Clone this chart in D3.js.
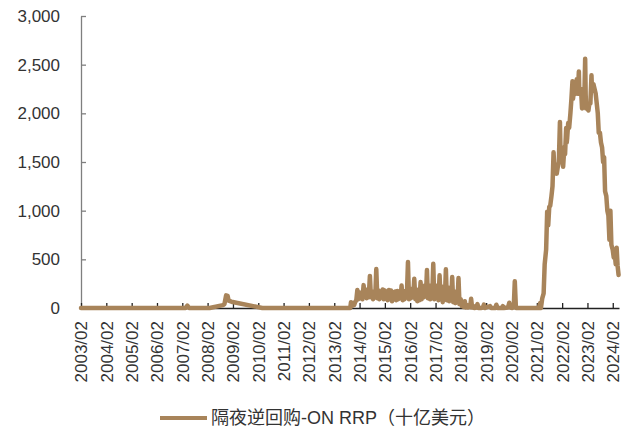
<!DOCTYPE html>
<html>
<head>
<meta charset="utf-8">
<script src="https://cdn.jsdelivr.net/npm/d3@7"></script>
<style>
  html, body { margin: 0; padding: 0; background: #fff; }
  svg { display: block; }
</style>
</head>
<body>
<svg id="chart" width="635" height="432"></svg>
<script>
// Overnight reverse repo facility usage, billions of USD: [date, value]
const rrpPre2013 = [
  ["2003-02-01", 0], ["2007-03-20", 0], ["2007-04-15", 25], ["2007-05-10", 0],
  ["2008-03-01", 0], ["2008-09-10", 30], ["2008-10-01", 40], ["2008-10-25", 130],
  ["2008-11-15", 125], ["2008-12-01", 75], ["2009-01-10", 65], ["2010-04-01", 0],
  ["2013-09-20", 0]
];
const rrp2013to2015 = [
  ["2013-09-30", 60], ["2013-10-15", 20], ["2013-10-31", 50], ["2013-11-15", 30],
  ["2013-11-29", 60], ["2013-12-16", 80], ["2013-12-31", 185],
  ["2014-01-15", 90], ["2014-01-31", 160], ["2014-02-14", 100], ["2014-02-28", 150],
  ["2014-03-14", 90], ["2014-03-31", 235], ["2014-04-15", 120], ["2014-04-30", 190],
  ["2014-05-15", 100], ["2014-05-30", 170], ["2014-06-13", 110], ["2014-06-30", 330],
  ["2014-07-15", 110], ["2014-07-31", 160], ["2014-08-15", 90], ["2014-08-29", 170],
  ["2014-09-15", 110], ["2014-09-30", 400], ["2014-10-15", 100], ["2014-10-31", 180],
  ["2014-11-14", 90], ["2014-11-28", 170], ["2014-12-15", 110], ["2014-12-31", 190],
  ["2015-01-15", 90], ["2015-01-30", 180], ["2015-02-13", 100], ["2015-02-27", 170],
  ["2015-03-13", 80], ["2015-03-31", 185], ["2015-04-15", 90], ["2015-04-30", 180],
  ["2015-05-15", 70], ["2015-05-29", 160], ["2015-06-15", 90], ["2015-06-30", 170],
  ["2015-07-15", 80], ["2015-07-31", 175], ["2015-08-14", 90], ["2015-08-31", 160],
  ["2015-09-15", 100], ["2015-09-30", 230], ["2015-10-15", 80], ["2015-10-30", 175],
  ["2015-11-13", 90], ["2015-11-30", 160], ["2015-12-15", 120], ["2015-12-31", 472]
];
const rrp2016to2017 = [
  ["2016-01-15", 90], ["2016-01-29", 200], ["2016-02-12", 100], ["2016-02-29", 180],
  ["2016-03-15", 110], ["2016-03-31", 300], ["2016-04-15", 90], ["2016-04-29", 190],
  ["2016-05-13", 70], ["2016-05-31", 170], ["2016-06-15", 80], ["2016-06-30", 267],
  ["2016-07-15", 90], ["2016-07-29", 200], ["2016-08-15", 110], ["2016-08-31", 230],
  ["2016-09-15", 120], ["2016-09-30", 390], ["2016-10-14", 100], ["2016-10-31", 230],
  ["2016-11-15", 90], ["2016-11-30", 220], ["2016-12-15", 110], ["2016-12-30", 455],
  ["2017-01-13", 90], ["2017-01-31", 230], ["2017-02-15", 110], ["2017-02-28", 200],
  ["2017-03-15", 80], ["2017-03-31", 336], ["2017-04-14", 100], ["2017-04-28", 220],
  ["2017-05-15", 60], ["2017-05-31", 190], ["2017-06-15", 90], ["2017-06-30", 397],
  ["2017-07-14", 80], ["2017-07-31", 210], ["2017-08-15", 70], ["2017-08-31", 200],
  ["2017-09-15", 80], ["2017-09-29", 318], ["2017-10-13", 60], ["2017-10-31", 170],
  ["2017-11-15", 50], ["2017-11-30", 160], ["2017-12-15", 80], ["2017-12-29", 308]
];
const rrp2018to2020 = [
  ["2018-01-12", 40], ["2018-01-31", 90], ["2018-02-15", 20], ["2018-02-28", 60],
  ["2018-03-15", 10], ["2018-03-30", 70], ["2018-04-13", 5], ["2018-04-30", 30],
  ["2018-05-15", 5], ["2018-05-31", 20], ["2018-06-15", 10], ["2018-06-29", 96],
  ["2018-07-13", 5], ["2018-07-31", 20], ["2018-08-15", 0], ["2018-09-14", 5],
  ["2018-09-28", 40], ["2018-10-15", 0], ["2018-11-15", 0], ["2018-12-14", 5],
  ["2018-12-31", 34], ["2019-01-15", 0], ["2019-03-29", 20], ["2019-04-15", 0],
  ["2019-06-14", 0], ["2019-06-28", 34], ["2019-07-15", 0], ["2019-09-13", 0],
  ["2019-09-30", 20], ["2019-10-15", 0], ["2019-12-13", 5], ["2019-12-31", 54],
  ["2020-01-15", 5], ["2020-02-14", 0], ["2020-03-05", 10], ["2020-03-20", 274],
  ["2020-04-05", 0], ["2021-03-01", 0]
];
const rrp2021to2024 = [
  ["2021-03-20", 50], ["2021-04-01", 0], ["2021-04-20", 100], ["2021-05-10", 150],
  ["2021-05-25", 450], ["2021-06-15", 600], ["2021-06-30", 990], ["2021-07-15", 850],
  ["2021-07-30", 1040], ["2021-08-13", 1050], ["2021-08-31", 1150], ["2021-09-15", 1250],
  ["2021-09-30", 1600], ["2021-10-15", 1380], ["2021-10-29", 1430], ["2021-11-15", 1380],
  ["2021-11-30", 1450], ["2021-12-15", 1500], ["2021-12-31", 1910],
  ["2022-01-07", 1650], ["2022-01-14", 1600], ["2022-01-31", 1650], ["2022-02-15", 1450],
  ["2022-02-28", 1600], ["2022-03-15", 1580], ["2022-03-31", 1850], ["2022-04-08", 1700],
  ["2022-04-15", 1750], ["2022-04-29", 1900], ["2022-05-13", 1850], ["2022-05-31", 2000],
  ["2022-06-15", 2150], ["2022-06-30", 2330], ["2022-07-08", 2150], ["2022-07-15", 2200],
  ["2022-07-29", 2250], ["2022-08-15", 2200], ["2022-08-31", 2350], ["2022-09-15", 2200],
  ["2022-09-30", 2430], ["2022-10-07", 2200], ["2022-10-14", 2230], ["2022-10-31", 2250],
  ["2022-11-15", 2050], ["2022-11-30", 2100], ["2022-12-15", 2060], ["2022-12-30", 2560],
  ["2023-01-06", 2200], ["2023-01-13", 2050], ["2023-01-31", 2050], ["2023-02-15", 2030],
  ["2023-02-28", 2100], ["2023-03-15", 2100], ["2023-03-31", 2390], ["2023-04-07", 2250],
  ["2023-04-14", 2250], ["2023-04-28", 2300], ["2023-05-15", 2250], ["2023-05-31", 2200],
  ["2023-06-15", 2100], ["2023-06-30", 2000], ["2023-07-14", 1800], ["2023-07-31", 1800],
  ["2023-08-15", 1700], ["2023-08-31", 1650], ["2023-09-15", 1500], ["2023-09-29", 1550],
  ["2023-10-13", 1200], ["2023-10-31", 1150], ["2023-11-15", 1000], ["2023-11-30", 950],
  ["2023-12-15", 700], ["2023-12-29", 1000], ["2024-01-12", 650], ["2024-01-31", 600],
  ["2024-02-15", 520], ["2024-02-29", 560], ["2024-03-15", 450], ["2024-03-28", 620],
  ["2024-04-10", 440], ["2024-04-25", 340]
];

const yTickValues = [0, 500, 1000, 1500, 2000, 2500, 3000];
const xTickLabels = [
  "2003/02", "2004/02", "2005/02", "2006/02", "2007/02", "2008/02", "2009/02",
  "2010/02", "2011/02", "2012/02", "2013/02", "2014/02", "2015/02", "2016/02",
  "2017/02", "2018/02", "2019/02", "2020/02", "2021/02", "2022/02", "2023/02", "2024/02"
];
const seriesName = "隔夜逆回购-ON RRP（十亿美元）";
const lineColor = "#A8845A";

const parseDay = d3.timeParse("%Y-%m-%d");
const parseTick = d3.timeParse("%Y/%m");
const series = [].concat(rrpPre2013, rrp2013to2015, rrp2016to2017, rrp2018to2020, rrp2021to2024)
  .map(([d, v]) => ({ date: parseDay(d), value: v }));

const plot = { left: 81, right: 619, top: 16, bottom: 308 };
const font = "'Liberation Sans', Arial, 'Noto Sans CJK SC', sans-serif";

const x = d3.scaleTime()
  .domain([parseTick("2003/02"), parseDay("2024-05-01")])
  .range([plot.left, plot.right]);
const y = d3.scaleLinear()
  .domain([0, 3000])
  .range([plot.bottom, plot.top]);

const svg = d3.select("#chart");

// y axis: inward ticks, labels on the left
const yAxis = svg.append("g")
  .attr("transform", `translate(${plot.left},0)`)
  .call(d3.axisLeft(y).tickValues(yTickValues).tickFormat(d3.format(","))
    .tickSizeInner(-5).tickSizeOuter(0).tickPadding(21));
yAxis.select(".domain").attr("stroke", "#7f7f7f").attr("stroke-width", 1.3);
yAxis.selectAll(".tick line").attr("stroke", "#7f7f7f").attr("stroke-width", 1.3);
yAxis.selectAll(".tick text")
  .attr("font-family", font).attr("font-size", 17).attr("fill", "#333");

// x axis: yearly February ticks, rotated labels
const xTickDates = xTickLabels.map(parseTick);
const xAxis = svg.append("g")
  .attr("transform", `translate(0,${plot.bottom})`)
  .call(d3.axisBottom(x).tickValues(xTickDates)
    .tickFormat((d, i) => xTickLabels[i])
    .tickSizeInner(-5).tickSizeOuter(0));
xAxis.select(".domain").attr("stroke", "#222").attr("stroke-width", 1.3);
xAxis.selectAll(".tick line").attr("stroke", "#222").attr("stroke-width", 1.3);
xAxis.selectAll(".tick text")
  .attr("font-family", font).attr("font-size", 17).attr("fill", "#333")
  .attr("transform", "rotate(-90)")
  .attr("text-anchor", "end")
  .attr("x", -13).attr("y", 0).attr("dy", "0.35em");

// series line
const line = d3.line()
  .x(d => x(d.date))
  .y(d => y(d.value));
svg.append("path")
  .datum(series)
  .attr("d", line)
  .attr("fill", "none")
  .attr("stroke", lineColor)
  .attr("stroke-width", 4.5)
  .attr("stroke-linejoin", "round")
  .attr("stroke-linecap", "round");

// legend
const legend = svg.append("g").attr("transform", "translate(160,418)");
legend.append("line")
  .attr("x1", 0).attr("x2", 47).attr("y1", 0).attr("y2", 0)
  .attr("stroke", lineColor).attr("stroke-width", 4);
legend.append("text")
  .attr("x", 51).attr("y", 0).attr("dy", "0.35em")
  .attr("font-family", font).attr("font-size", 18).attr("fill", "#333")
  .text(seriesName);
</script>
</body>
</html>
